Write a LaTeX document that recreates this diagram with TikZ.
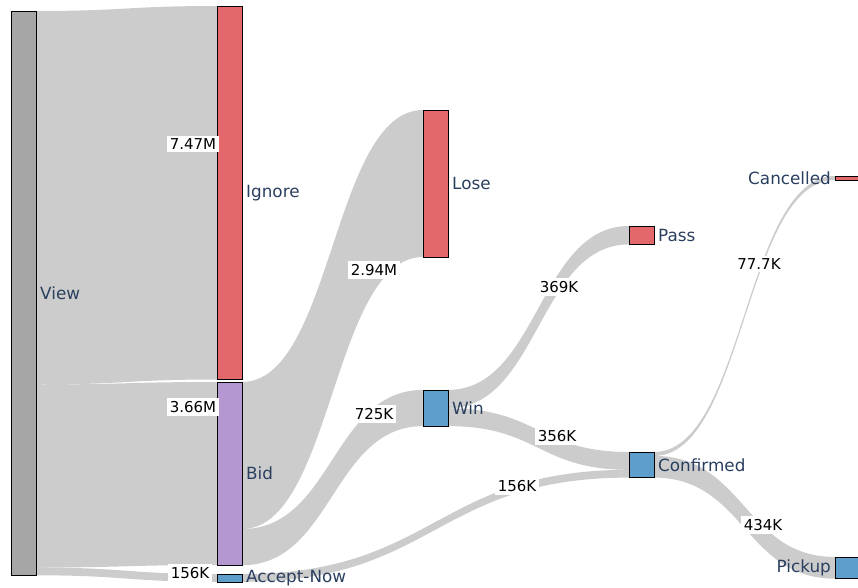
\documentclass[tikz,border=0pt]{standalone}
\usepackage{fontspec}
\setmainfont{DejaVu Sans}
\usepackage{xcolor}
\usetikzlibrary{positioning,calc,backgrounds}

\definecolor{viewgray}{RGB}{166,166,166}
\definecolor{lostred}{RGB}{227,104,107}
\definecolor{bidpurple}{RGB}{180,151,209}
\definecolor{okblue}{RGB}{93,158,204}
\definecolor{labelblue}{RGB}{42,63,95}

% band: source, offset at source, target, offset at target, thickness
\newcommand{\flow}[5]{%
  \path ($(#1.north east)+(0,#2)$) coordinate (p1)
        ($(#3.north west)+(0,#4)$) coordinate (p2)
        ($(p1)!0.5!(p2)$) coordinate (pm)
        ($(p1)+(0,#5)$) coordinate (q1)
        ($(p2)+(0,#5)$) coordinate (q2);
  \fill[band] (p1) .. controls (pm |- p1) and (pm |- p2) .. (p2) -- (q2)
     .. controls (pm |- q2) and (pm |- q1) .. (q1) -- cycle;
}

\begin{document}
\begin{tikzpicture}[x=1pt,y=-1pt]
\tikzstyle{stagebox} = [rectangle, draw=black, line width=0.6pt, minimum width=25pt, inner sep=0pt, outer sep=0pt]
\tikzstyle{stagename} = [text=labelblue, inner sep=0pt, font=\fontsize{16.8}{18}\selectfont]
\tikzstyle{flowval} = [fill=white, inner xsep=2.4pt, inner ysep=3pt, font=\fontsize{15}{16}\selectfont]
\tikzstyle{band} = [fill=black, fill opacity=0.2]

\useasboundingbox (0,0) rectangle (858,587);

% Nodes
\node (view) [stagebox, fill=viewgray, minimum height=564pt] at (23.5,293) {};
\node (ignore) [stagebox, fill=lostred, minimum height=373.5pt] at (229.5,192.75) {};
\node (bid) [stagebox, fill=bidpurple, minimum height=183pt] at (229.5,473.5) {};
\node (accept) [stagebox, fill=okblue, minimum height=7.8pt] at (229.5,577.9) {};
\node (lose) [stagebox, fill=lostred, minimum height=147pt] at (435.5,183.5) {};
\node (win) [stagebox, fill=okblue, minimum height=36.25pt] at (435.5,408) {};
\node (pass) [stagebox, fill=lostred, minimum height=18.45pt] at (641.5,235.2) {};
\node (confirmed) [stagebox, fill=okblue, minimum height=25.6pt] at (641.5,464.8) {};
\node (cancelled) [stagebox, fill=lostred, minimum height=3.9pt] at (847.5,178) {};
\node (pickup) [stagebox, fill=okblue, minimum height=21.7pt] at (847.5,567.8) {};

% Names
\node (viewtxt) [stagename, right=4pt of view] {View};
\node (ignoretxt) [stagename, right=4pt of ignore] {Ignore};
\node (bidtxt) [stagename, right=4pt of bid] {Bid};
\node (accepttxt) [stagename, right=4pt of accept] {Accept-Now};
\node (losetxt) [stagename, right=4pt of lose] {Lose};
\node (wintxt) [stagename, right=4pt of win] {Win};
\node (passtxt) [stagename, right=4pt of pass] {Pass};
\node (confirmedtxt) [stagename, right=4pt of confirmed] {Confirmed};
\node (cancelledtxt) [stagename, left=4pt of cancelled] {Cancelled};
\node (pickuptxt) [stagename, left=4pt of pickup] {Pickup};

% Flows
\begin{scope}[on background layer]
\flow{view}{0}{ignore}{0}{373.5}
\flow{view}{373.5}{bid}{0}{183}
\flow{view}{556.5}{accept}{0}{7.8}
\flow{bid}{0}{lose}{0}{147}
\flow{bid}{147}{win}{0}{36.25}
\flow{accept}{0}{confirmed}{17.8}{7.8}
\flow{win}{0}{pass}{0}{18.45}
\flow{win}{18.45}{confirmed}{0}{17.8}
\flow{confirmed}{0}{cancelled}{0}{3.9}
\flow{confirmed}{3.9}{pickup}{0}{21.7}
\end{scope}

% Values
\node (vignore) [flowval] at (193,144) {7.47M};
\node (vbid) [flowval] at (193,407) {3.66M};
\node (vaccept) [flowval] at (190,573) {156K};
\node (vlose) [flowval] at (374,270) {2.94M};
\node (vwin) [flowval] at (374,414) {725K};
\node (vpass) [flowval] at (559,287) {369K};
\node (vconfirmed) [flowval] at (557,436) {356K};
\node (vdirect) [flowval] at (517,486) {156K};
\node (vcancelled) [flowval] at (759,264) {77.7K};
\node (vpickup) [flowval] at (763,525) {434K};

\end{tikzpicture}
\end{document}
